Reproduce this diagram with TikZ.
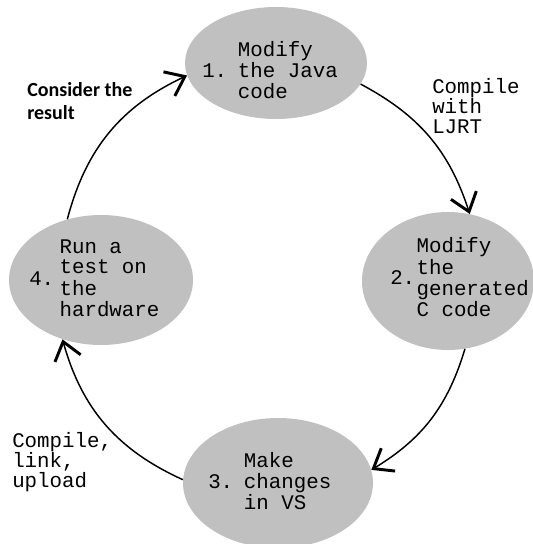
\documentclass[tikz,border=0pt]{standalone}
\usepackage{fontspec}
\setmonofont{Liberation Mono}
\newfontfamily\notefont{Carlito}
\usetikzlibrary{shapes.geometric,arrows.meta}
\definecolor{stepgray}{RGB}{192,192,192}

\begin{document}
\begin{tikzpicture}[x=0.75pt,y=0.75pt,
	stepshape/.style={shape=ellipse,fill=stepgray,draw=none,inner sep=0pt},
	steptext/.style={inner sep=0pt,anchor=west,font=\ttfamily\fontsize{15.6}{15}\selectfont},
	notetext/.style={inner sep=0pt,anchor=west,align=left,font=\ttfamily\fontsize{15.6}{15}\selectfont},
	flow/.style={line width=1.1pt,-{Straight Barb[length=13pt,width=20pt,line width=2.2pt]}}]
	\useasboundingbox (0,0) rectangle (533,-544);

	% the four steps
	\node[stepshape,minimum width=136.5pt,minimum height=84pt]  (s1) at (276,-63)  {};
	\node[stepshape,minimum width=129pt,minimum height=103.5pt] (s2) at (448,-281) {};
	\node[stepshape,minimum width=142.5pt,minimum height=97.5pt] (s3) at (278,-483) {};
	\node[stepshape,minimum width=138pt,minimum height=97.5pt]  (s4) at (101,-280) {};

	\node[steptext] (t1) at (202,-73) {1.\hspace{8pt}\begin{tabular}[c]{@{}l@{}}Modify\\the Java\\code\end{tabular}};
	\node[steptext] (t2) at (390,-280) {2.\hspace{1pt}\begin{tabular}[c]{@{}l@{}}Modify\\the\\generated\\C code\end{tabular}};
	\node[steptext] (t3) at (208,-484) {3.\hspace{8pt}\begin{tabular}[c]{@{}l@{}}Make\\changes\\in VS\end{tabular}};
	\node[steptext] (t4) at (29,-281)  {4.\hspace{4pt}\begin{tabular}[c]{@{}l@{}}Run a\\test on\\the\\hardware\end{tabular}};

	% what happens between them
	\node[notetext] (c1) at (432,-106) {Compile\\with\\LJRT};
	\node[notetext] (c2) at (12,-462)  {Compile,\\link,\\upload};
	\node[notetext,font=\notefont\bfseries\fontsize{15}{17.3}\selectfont] (c3) at (27,-101) {Consider the\\result};

	\draw[flow] (s1.-14)  to[bend left=22] (s2.72);
	\draw[flow] (s2.-76)  to[bend left=21] (s3.8);
	\draw[flow] (s3.178)  to[bend left=25] (s4.-123);
	\draw[flow] (s4.119)  to[bend left=25] (s1.-172);
\end{tikzpicture}
\end{document}
